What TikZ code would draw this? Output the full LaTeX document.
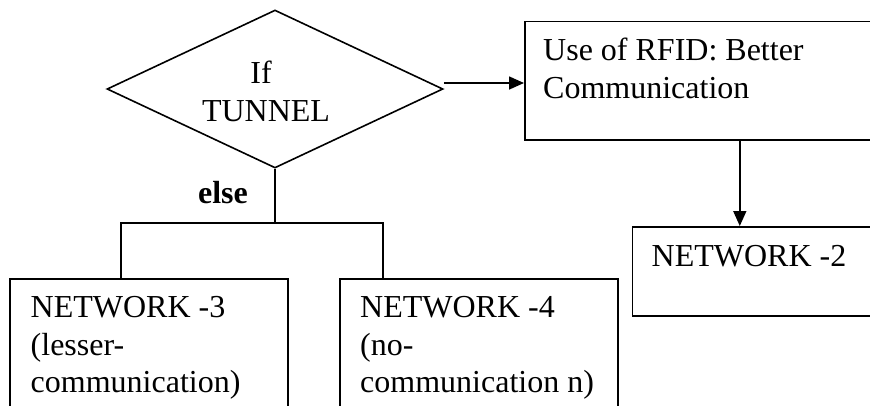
\documentclass[tikz,border=0pt]{standalone}
\usepackage{fontspec}
\setmainfont{Liberation Serif}
\usetikzlibrary{shapes.geometric,arrows.meta}
\begin{document}
\begin{tikzpicture}
                [x=1pt,y=-1pt,
                box/.style={rectangle,draw=black,line width=1.6pt,anchor=north west,inner sep=0pt},
                decision/.style={diamond,draw=black,line width=1.6pt,inner sep=0pt,minimum width=336pt,minimum height=158pt},
                txt/.style={anchor=base west,inner sep=0pt,align=left,font=\fontsize{32}{37.3}\selectfont},
                line/.style={line width=1.6pt},
                arrow/.style={line width=1.6pt,-{Triangle[length=15pt,width=13pt]}},
                ]
                \useasboundingbox (0,0) rectangle (870,405);
                \clip (0,0) rectangle (870,405);
                % decision and boxes
                \node[decision] (dec) at (275,89) {};
                \node[txt,anchor=base,align=center] (dectxt) at (266,121) {\hspace*{-10pt}If\\TUNNEL};
                \node[box,minimum width=376pt,minimum height=118.5pt] (rfid) at (524,20.5) {};
                \node[box,minimum width=300pt,minimum height=89pt] (net2) at (631.5,226) {};
                \node[box,minimum width=277.7pt,minimum height=160pt] (net3) at (9.3,278) {};
                \node[box,minimum width=278pt,minimum height=160pt] (net4) at (339,278) {};
                \node[txt] (rfidtxt) at (543,98) {Use of RFID: Better\\Communication};
                \node[txt] (net2txt) at (651.5,266.7) {NETWORK -2};
                \node[txt] (net3txt) at (30.5,392.3) {NETWORK -3\\(lesser-\\communication)};
                \node[txt] (net4txt) at (360,392.3) {NETWORK -4\\(no-\\communication n)};
                \node[txt,anchor=base,font=\fontsize{32}{37.3}\selectfont\bfseries] (elsetxt) at (223,203.3) {else};
                % connectors
                \coordinate (jl) at (121,223);
                \coordinate (jr) at (383,223);
                \draw[arrow] ([yshift=6pt]dec.east) -- ([yshift=6pt]dec.east -| rfid.west);
                \draw[arrow] ([xshift=27pt]rfid.south) -- ([xshift=27pt]rfid.south |- net2.north);
                \draw[line] (dec.south) -- (dec.south |- jl);
                \draw[line] (jl |- net3.north) -- (jl) -- (jr) -- (jr |- net4.north);
            \end{tikzpicture}
\end{document}
